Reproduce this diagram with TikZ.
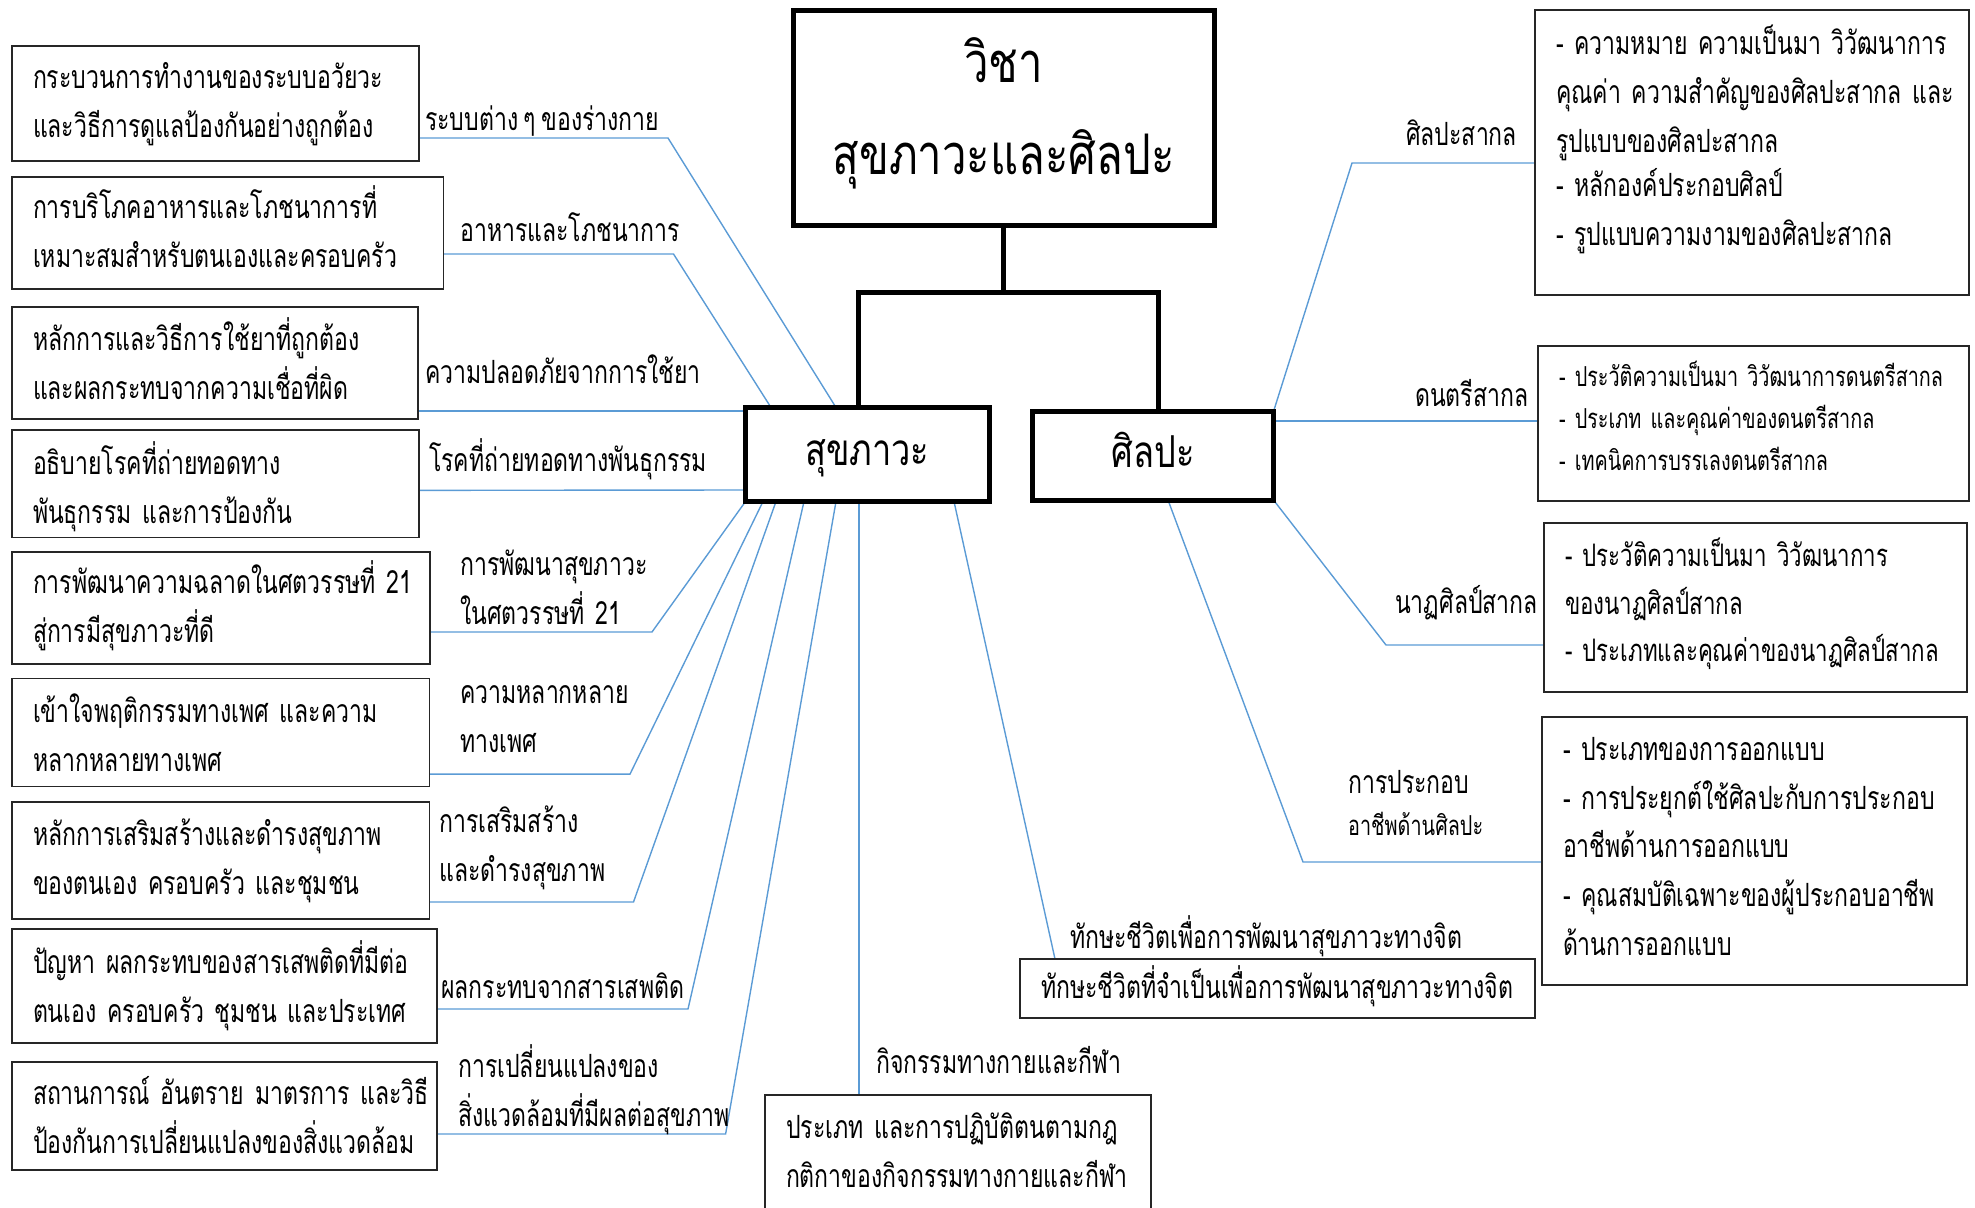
\documentclass[tikz,border=0pt]{standalone}
\usepackage{fontspec}
\usetikzlibrary{
    backgrounds % for the blue links behind the boxes
}
\newfontfamily\thaifont[Script=Thai,FakeStretch=0.72,WordSpace=0.7]{Loma}
\newfontfamily\headfont[Script=Thai,FakeStretch=0.78]{Loma}
\newcommand\bodyfont{\thaifont\fontsize{32}{49}\selectfont}
\newcommand\smallbody{\thaifont\fontsize{27.5}{42}\selectfont}
\newcommand\titlefont{\headfont\fontsize{56}{92}\selectfont}
\newcommand\mainfont{\headfont\fontsize{44}{60}\selectfont}
\definecolor{linkblue}{RGB}{91,155,213}

\begin{document}
\begin{tikzpicture}[
    x=1pt,y=-1pt,
    box/.style      = {draw=black!85,line width=1.3pt,rectangle,anchor=north west,
                       inner xsep=21pt,inner ysep=0pt,outer sep=0pt,align=left,font=\bodyfont,
                       execute at begin node=\strut,execute at end node=\strut},
    mainbox/.style  = {draw=black,line width=5pt,rectangle,inner sep=0pt,outer sep=0pt,
                       align=center,font=\mainfont},
    lbl/.style      = {anchor=base west,inner sep=0pt,align=left,font=\bodyfont},
    link/.style     = {draw=linkblue,line width=1.4pt},
    tree/.style     = {draw=black,line width=5pt,line join=miter}
]
\useasboundingbox (0,0) rectangle (1975,1207);

% the subject and its two halves

    \node [mainbox,minimum width=421pt,minimum height=214pt,font=\titlefont] (title) at (1003.5,118)
        {\rule{0pt}{62.5pt}วิชา\\สุขภาวะและศิลปะ\rule[-41.5pt]{0pt}{0pt}};
    \node [mainbox,minimum width=243.5pt,minimum height=94pt] (health) at (867.25,454.5) {\rule[-19pt]{0pt}{59pt}สุขภาวะ};
    \node [mainbox,minimum width=241pt,minimum height=88.5pt]  (arts)   at (1153,455.75)  {\rule[-17.5pt]{0pt}{57.5pt}ศิลปะ};

    \draw [tree] (title.south) -- ++(0,67);
    \draw [tree] ([xshift=-9.25pt]health.north) -- ++(0,-115.5) -| ([xshift=5pt]arts.north);

% topics of health (left and bottom)

    \node [box,text width=365pt,minimum height=115pt]   (body)    at (12,46)    {กระบวนการทำงานของระบบอวัยวะ\\และวิธีการดูแลป้องกันอย่างถูกต้อง};
    \node [box,text width=389.5pt,minimum height=112pt] (food)    at (12,177)   {การบริโภคอาหารและโภชนาการที่\\เหมาะสมสำหรับตนเองและครอบครัว};
    \node [box,text width=364pt,minimum height=112pt]   (drug)    at (12,307)   {\rule{0pt}{38pt}หลักการและวิธีการใช้ยาที่ถูกต้อง\\และผลกระทบจากความเชื่อที่ผิด};
    \node [box,text width=365pt,minimum height=107pt]   (gene)    at (12,430)   {\rule{0pt}{44pt}อธิบายโรคที่ถ่ายทอดทาง\\พันธุกรรม~และการป้องกัน};
    \node [box,text width=376pt,minimum height=112pt]   (century) at (12,552)   {การพัฒนาความฉลาดในศตวรรษที่~21\\สู่การมีสุขภาวะที่ดี};
    \node [box,text width=375.5pt,minimum height=103.5pt] (gender) at (12,678.5) {\rule{0pt}{44pt}เข้าใจพฤติกรรมทางเพศ~และความ\\หลากหลายทางเพศ};
    \node [box,text width=375.5pt,minimum height=117pt] (promote) at (12,802)   {หลักการเสริมสร้างและดำรงสุขภาพ\\ของตนเอง~ครอบครัว~และชุมชน};
    \node [box,text width=383pt,minimum height=114pt]   (addict)  at (12,929)   {\rule{0pt}{38pt}ปัญหา~ผลกระทบของสารเสพติดที่มีต่อ\\ตนเอง~ครอบครัว~ชุมชน~และประเทศ};
    \node [box,text width=383pt,minimum height=108pt]   (enviro)  at (12,1062)  {\rule{0pt}{40pt}สถานการณ์~อันตราย~มาตรการ~และวิธี\\ป้องกันการเปลี่ยนแปลงของสิ่งแวดล้อม};
    \node [box,text width=344pt,minimum height=116pt]   (sport)   at (765,1095) {ประเภท~และการปฏิบัติตนตามกฎ\\กติกาของกิจกรรมทางกายและกีฬา};
    \node [box,text width=473pt,minimum height=59pt]    (skill)   at (1020,959) {ทักษะชีวิตที่จำเป็นเพื่อการพัฒนาสุขภาวะทางจิต};

    \node [lbl] (lbody)    at (425,130)  {ระบบต่าง ๆ ของร่างกาย};
    \node [lbl] (lfood)    at (460,241)  {อาหารและโภชนาการ};
    \node [lbl] (ldrug)    at (425,383)  {ความปลอดภัยจากการใช้ยา};
    \node [lbl] (lgene)    at (429,471)  {โรคที่ถ่ายทอดทางพันธุกรรม};
    \node [lbl,text width=260pt] (lcentury) at (460,575)  {การพัฒนาสุขภาวะ\\ในศตวรรษที่ 21};
    \node [lbl,text width=260pt] (lgender)  at (460,703)  {ความหลากหลาย\\ทางเพศ};
    \node [lbl,text width=260pt] (lpromote) at (439,832)  {การเสริมสร้าง\\และดำรงสุขภาพ};
    \node [lbl] (laddict)  at (441,998)  {ผลกระทบจากสารเสพติด};
    \node [lbl,text width=300pt] (lenviro)  at (458,1077) {การเปลี่ยนแปลงของ\\สิ่งแวดล้อมที่มีผลต่อสุขภาพ};
    \node [lbl] (lsport)   at (876,1073) {กิจกรรมทางกายและกีฬา};
    \node [lbl] (lskill)   at (1070,948) {ทักษะชีวิตเพื่อการพัฒนาสุขภาวะทางจิต};

% topics of arts (right)

    \node [box,text width=392pt,minimum height=285pt] (artintl) at (1535,10)
        {-~ความหมาย~ความเป็นมา~วิวัฒนาการ\\คุณค่า~ความสำคัญของศิลปะสากล~และ\\รูปแบบของศิลปะสากล\\[-5pt]-~หลักองค์ประกอบศิลป์\\-~รูปแบบความงามของศิลปะสากล\rule[-40pt]{0pt}{0pt}};
    \node [box,text width=389pt,minimum height=155pt,font=\smallbody] (music) at (1538,346)
        {-~ประวัติความเป็นมา~วิวัฒนาการดนตรีสากล\\-~ประเภท~และคุณค่าของดนตรีสากล\\-~เทคนิคการบรรเลงดนตรีสากล\rule[-19.6pt]{0pt}{0pt}};
    \node [box,text width=381pt,minimum height=169pt,font=\thaifont\fontsize{31}{47.5}\selectfont] (dance) at (1544,523)
        {-~ประวัติความเป็นมา~วิวัฒนาการ\\ของนาฏศิลป์สากล\\-~ประเภทและคุณค่าของนาฏศิลป์สากล\rule[-20.25pt]{0pt}{0pt}};
    \node [box,text width=383pt,minimum height=268pt,font=\thaifont\fontsize{32}{48.75}\selectfont] (career) at (1542,717)
        {-~ประเภทของการออกแบบ\\-~การประยุกต์ใช้ศิลปะกับการประกอบ\\อาชีพด้านการออกแบบ\\-~คุณสมบัติเฉพาะของผู้ประกอบอาชีพ\\ด้านการออกแบบ\rule[-20.6pt]{0pt}{0pt}};

    \node [lbl] (lartintl) at (1406,145) {ศิลปะสากล};
    \node [lbl] (lmusic)   at (1415,406) {ดนตรีสากล};
    \node [lbl] (ldance)   at (1395,613) {นาฏศิลป์สากล};
    \node [lbl,text width=200pt] (lcareer) at (1348,793) {การประกอบ\\[-7pt]{\smallbody อาชีพด้านศิลปะ}};

% blue links

\begin{scope}[on background layer]
    \draw [link] ([yshift=-34.5pt]body.east)    -- ++(249,0)   -- ([xshift=-31.25pt]health.north);
    \draw [link] ([yshift=-21pt]food.east)      -- ++(230,0)   -- ([xshift=-96.25pt]health.north);
    \draw [link] ([yshift=-48pt]drug.east)      -- ([yshift=43.5pt]health.west);
    \draw [link] ([yshift=-6.5pt]gene.east)     -- ([yshift=-35.5pt]health.west);
    \draw [link] ([yshift=-24pt]century.east)   -- ++(222,0)   -- (health.south west);
    \draw [link] ([yshift=-41.75pt]gender.east) -- ++(200.5,0) -- ([xshift=-104.25pt]health.south);
    \draw [link] ([yshift=-41.5pt]promote.east) -- ++(204,0)   -- ([xshift=-91.25pt]health.south);
    \draw [link] ([yshift=-23pt]addict.east)    -- ++(251,0)   -- ([xshift=-63.25pt]health.south);
    \draw [link] ([yshift=-18pt]enviro.east)    -- ++(288.6,0) -- ([xshift=-31.25pt]health.south);
    \draw [link] ([xshift=-99pt]sport.north)    -- ([xshift=-8.25pt]health.south);
    \draw [link] ([xshift=-222.5pt]skill.north) -- ([xshift=86.75pt]health.south);

    \draw [link] ([yshift=-10.5pt]artintl.west) -- ++(-183,0)  -- (arts.north east);
    \draw [link] ([yshift=2.5pt]music.west)     -- ([yshift=34.75pt]arts.east);
    \draw [link] ([yshift=-37.5pt]dance.west)   -- ++(-158,0)  -- (arts.south east);
    \draw [link] ([yshift=-11pt]career.west)    -- ++(-239,0)  -- ([xshift=15pt]arts.south);
\end{scope}

\end{tikzpicture}
\end{document}
